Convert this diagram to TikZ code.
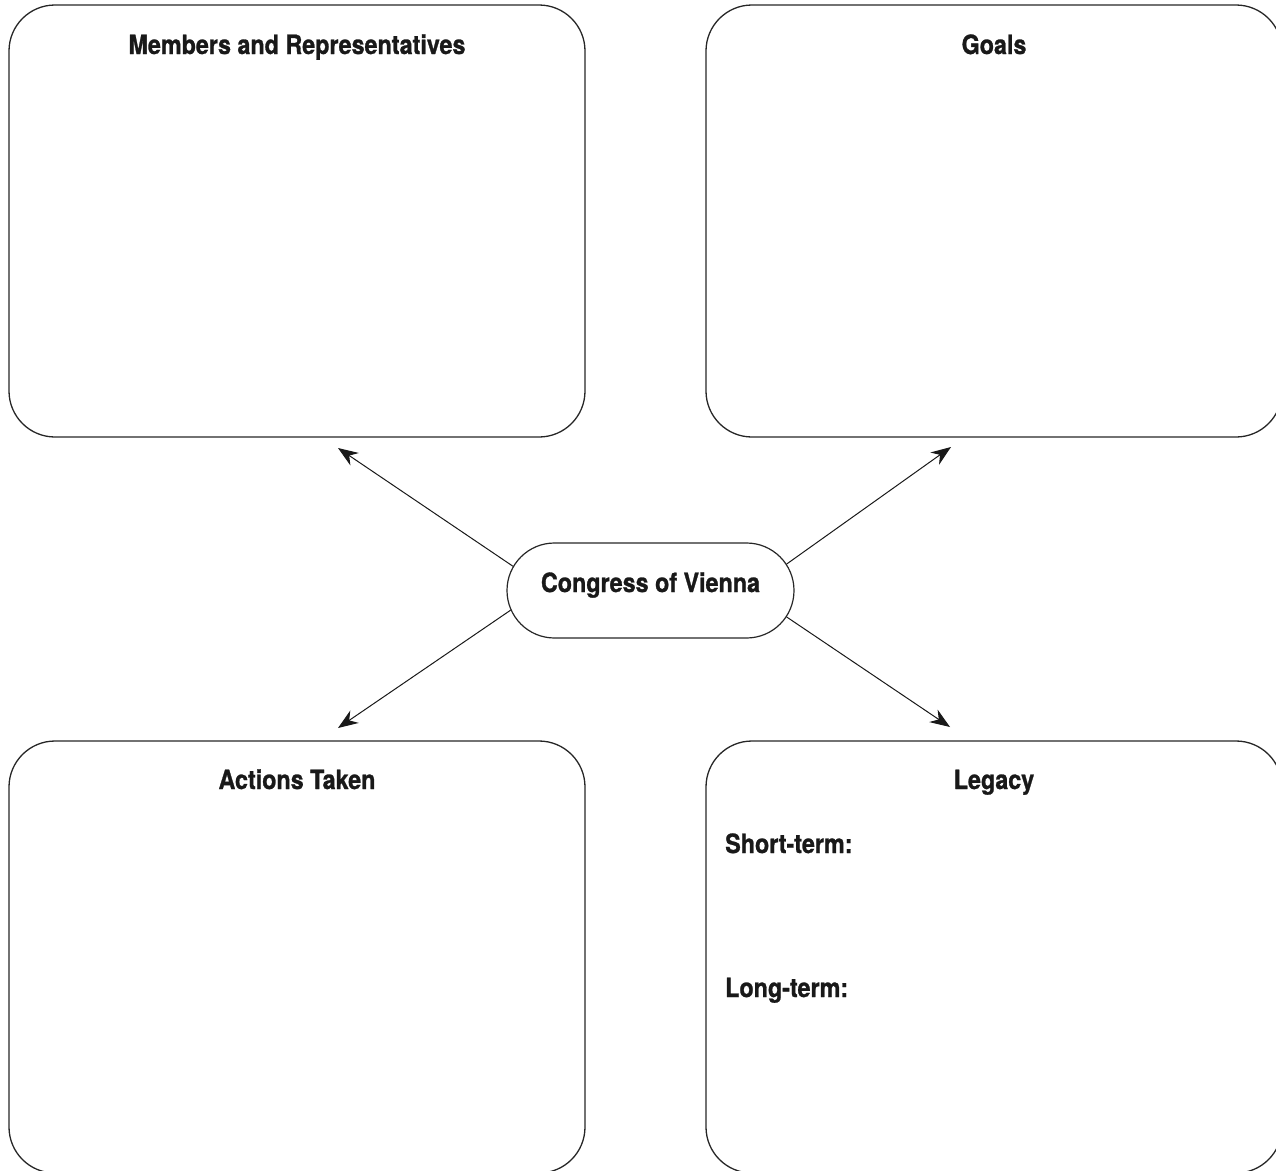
\documentclass[tikz,border=0pt]{standalone}
\usepackage{fontspec}
\setmainfont{TeX Gyre Heros}[FakeStretch=0.88,BoldFeatures={FakeBold=1}]
\usetikzlibrary{arrows.meta,shapes.misc}
\begin{document}
\begin{tikzpicture}[x=1pt,y=-1pt,
  bigbox/.style={draw=black!85,line width=1.3pt,rounded corners=46pt,minimum width=576pt,minimum height=432pt,inner sep=0pt},
  hub/.style={draw=black!85,line width=1.2pt,rounded rectangle,minimum width=287pt,minimum height=95pt,inner sep=0pt},
  title/.style={anchor=base,inner sep=0pt,font=\fontsize{26.5}{30}\selectfont\bfseries,text=black!90},
  sub/.style={anchor=base west,inner sep=0pt,font=\fontsize{26.5}{30}\selectfont\bfseries,text=black!90},
  link/.style={draw=black!90,line width=1pt,-{Stealth[length=20pt,width=15pt]}}]
\useasboundingbox (0,0) rectangle (1276,1170);
\clip (0,0) rectangle (1276,1170);
\node[bigbox] (mr) at (297,221) {};
\node[bigbox] (go) at (994,221) {};
\node[bigbox] (at) at (297,957) {};
\node[bigbox] (le) at (994,957) {};
\node[hub] (c) at (650.5,590.5) {};
\node[title] (cT) at (650.5,592) {Congress of Vienna};
\node[title] (mrT) at (297,54) {Members and Representatives};
\node[title] (goT) at (994,54) {Goals};
\node[title] (atT) at (297,789) {Actions Taken};
\node[title] (leT) at (994,789) {Legacy};
\node[sub] (st) at (725,853) {Short-term:};
\node[sub] (lt) at (725,997) {Long-term:};
\coordinate (t1) at (338,448);
\coordinate (t2) at (951,447);
\coordinate (t3) at (338,728);
\coordinate (t4) at (950,727);
\draw[link] (c.170) -- (t1);
\draw[link] (c.11) -- (t2);
\draw[link] (c.188) -- (t3);
\draw[link] (c.349) -- (t4);
\end{tikzpicture}
\end{document}
